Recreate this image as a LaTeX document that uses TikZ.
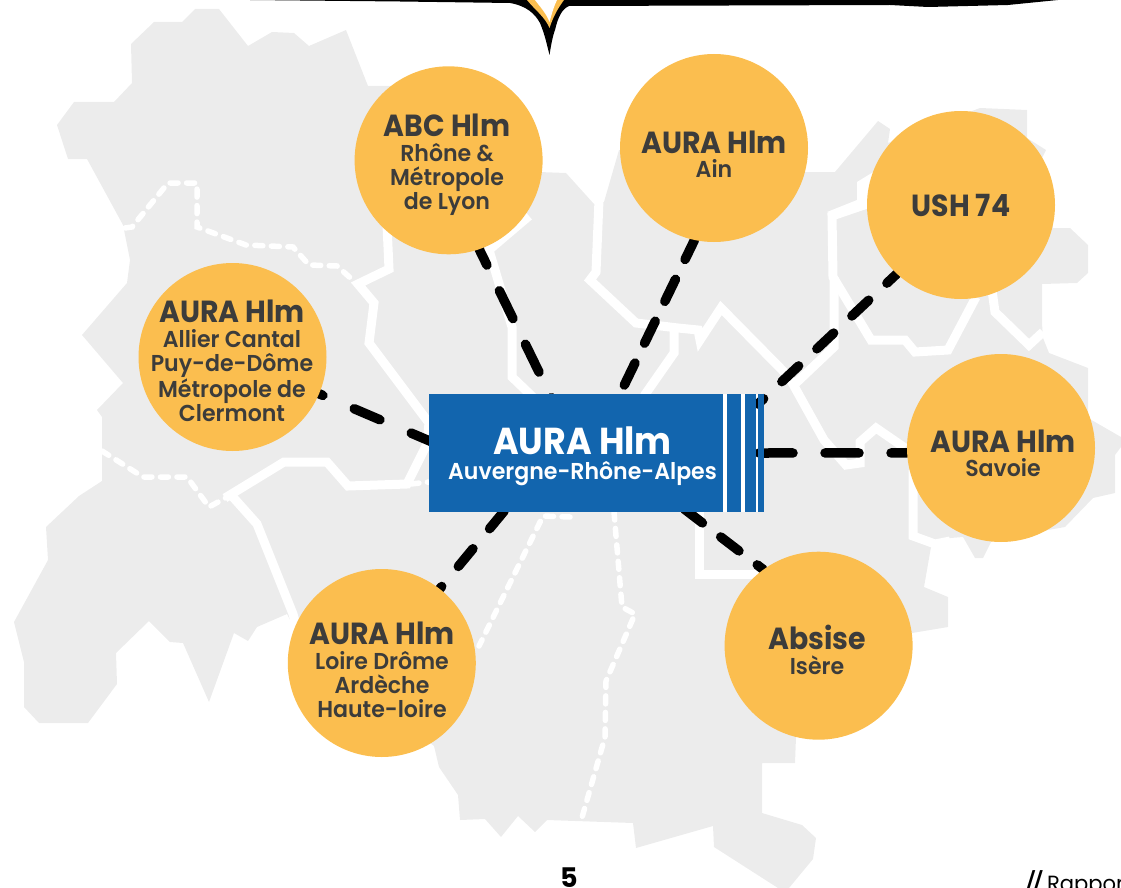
\documentclass[tikz,border=0pt]{standalone}
\usepackage{fontspec}
\setmainfont{Poppins}
\newfontfamily\gothic{Poppins SemiBold}[FakeStretch=0.96]
\newfontfamily\gothicb{Poppins}[FakeStretch=0.93]
\newfontfamily\footf{Poppins}[FakeStretch=0.96]
\newfontfamily\slashf{Poppins}[FakeStretch=0.75]
\definecolor{mapgray}{HTML}{ECECEC}
\definecolor{disc}{HTML}{FBBE4F}
\definecolor{ink}{HTML}{3C3C3B}
\definecolor{boxblue}{HTML}{1265AE}
\newcommand{\bigt}[1]{{\gothicb\bfseries\fontsize{30.5}{24.3}\selectfont #1}}
\tikzset{
  band/.style={draw=white,line width=9pt,line join=miter},
  dotted band/.style={draw=white,line width=5.5pt,line cap=round,dash pattern=on 8pt off 8.5pt},
  conn/.style={draw=black,line width=9.5pt,line cap=round},
  disc node/.style={circle,fill=disc,minimum size=188pt,inner sep=0pt},
  disc text/.style={align=center,text=ink,inner sep=0pt,font=\gothic\fontsize{23}{24.3}\selectfont},
  blue part/.style={fill=boxblue,inner sep=0pt,minimum height=118pt,anchor=north west}
}
\begin{document}
\begin{tikzpicture}[x=1pt,y=-1pt]
\useasboundingbox (0,0) rectangle (1121,888);
% map
\fill[mapgray] (195,9)--(219,9)--(248,46)--(272,32)--(294,33)--(309,46)--(346,30)--(368,86)--(393,86)--(539,172)--(566,173)--(594,204)--(604,202)--(619,150)--(806,172)--(835,172)--(878,121)--(890,129)--(888,143)--(980,108)--(1027,110)--(1027,138)--(1046,150)--(1042,158)--(1053,228)--(1070,228)--(1088,245)--(1088,273)--(1077,283)--(1042,284)--(1042,323)--(1043,338)--(1049,353)--(1088,368)--(1088,418)--(1121,437)--(1121,447)--(1115,455)--(1115,493)--(1093,498)--(1065,527)--(992,540)--(983,558)--(975,558)--(963,537)--(938,539)--(931,547)--(924,587)--(948,597)--(948,627)--(912,633)--(796,737)--(795,763)--(762,763)--(762,813)--(802,825)--(816,838)--(813,859)--(789,888)--(778,888)--(714,847)--(713,826)--(636,848)--(633,823)--(547,820)--(535,832)--(518,816)--(501,837)--(485,819)--(460,820)--(458,795)--(439,767)--(434,746)--(298,635)--(287,614)--(257,627)--(248,641)--(234,633)--(209,702)--(183,643)--(170,642)--(149,621)--(116,653)--(117,684)--(88,723)--(39,723)--(24,707)--(24,662)--(14,622)--(48,560)--(46,527)--(79,496)--(102,481)--(102,417)--(97,410)--(123,383)--(82,335)--(127,283)--(130,260)--(123,225)--(87,159)--(68,159)--(57,125)--(74,102)--(114,102)--(132,83)--(131,44)--(154,22)--(182,22)--cycle;
% white borders
\fill[white] (875,171)--(857,182)--(857,200)--(827,212)--(838,217)--(880,205)--cycle;
\draw[band] (387,225)--(389,269)--(358,284)--(374,303)--(369,343)--(429,423)--(427,444)--(407,484)--(348,486)--(327,462)--(284,462)--(225,498);
\draw[band] (232,496)--(257,524)--(293,614)--(300,640);
\draw[band] (529,216)--(489,250)--(512,327)--(512,377)--(536,400);
\draw[band] (599,200)--(596,272)--(590,280)--(636,323)--(678,328)--(698,330)--(700,340)--(721,308)--(789,377)--(824,440)--(846,465)--(860,463)--(860,442)--(876,428)--(905,448);
\draw[band] (674,328)--(674,353)--(644,396);
\draw[band] (867,204)--(832,216)--(833,277)--(871,340)--(905,340)--(915,352)--(948,350)--(976,297);
\draw[band] (834,277)--(834,347)--(796,383);
\draw[band] (992,290)--(995,312)--(1029,345)--(1043,332);
\draw[band] (913,470)--(913,536)--(935,544)--(950,541);
\draw[band] (699,505)--(699,574)--(770,574);
% white dashed borders
\draw[dotted band] (125,228)--(132,227)--(168,183)--(197,183)--(197,227)--(246,245)--(293,247)--(309,265)--(337,266)--(355,282);
\draw[dotted band] (102,451)--(143,477)--(187,477)--(209,507)--(229,496);
\draw[dotted band] (411,484)--(429,482);
\draw[dotted band] (570,517)--(543,516)--(479,646);
\draw[dotted band] (614,512)--(622,607)--(635,614)--(606,681)--(605,737)--(581,821);
% bracket of the bubble above
\fill[black] (250,0)--(400,1.5)--(510,3) .. controls (527,6) and (535,14) .. (540,23) .. controls (545,35) and (547,45) .. (549.5,55) .. controls (551,45) and (553,35) .. (555,30) .. controls (558,17) and (562,9) .. (569,6)--(890,5)--(928,7)--(1008,5)--(1058,0)--cycle;
\fill[disc] (527,0) .. controls (535,10) and (545,17) .. (549.5,28) .. controls (553,17) and (558,8) .. (564,0)--cycle;
\fill[white] (535,0) .. controls (541,8) and (546,13) .. (549.5,22) .. controls (552,13) and (554,6) .. (557,0)--cycle;
% gaps of the box
\fill[white] (723,394) rectangle (764,512);
% discs named first, drawn last
\path node[disc node,fill=none] (abc) at (448.6,160.3) {}
      node[disc node,fill=none] (ain) at (714,148) {}
      node[disc node,fill=none] (ush) at (961,205) {}
      node[disc node,fill=none] (all) at (232.5,357) {}
      node[disc node,fill=none] (sav) at (1001,448) {}
      node[disc node,fill=none] (abs) at (818.6,645.7) {}
      node[disc node,fill=none] (loi) at (381.8,663) {};
\coordinate (bAbc) at (555,405);
\coordinate (bAin) at (620,394);
\coordinate (bUsh) at (758,404);
\coordinate (bAll) at (432,442);
\coordinate (bSav) at (759,453);
\coordinate (bAbs) at (679,505);
\coordinate (bLoi) at (510,504);
% connectors
\draw[conn,dash pattern=on 31pt off 28.5pt,dash phase=13.5pt] (abc.-71)--(bAbc);
\draw[conn,dash pattern=on 24.5pt off 22pt,dash phase=3pt] (ain.-102.5)--(bAin);
\draw[conn,dash pattern=on 23pt off 25pt,dash phase=9.5pt] (ush.-133)--(bUsh);
\draw[conn,dash pattern=on 28pt off 34pt,dash phase=24pt] (all.-23)--(bAll);
\draw[conn,dash pattern=on 34pt off 32pt] (bSav)--(sav.183);
\draw[conn,dash pattern=on 23pt off 23pt,dash phase=39.5pt] (bAbs)--(abs.126);
\draw[conn,dash pattern=on 23pt off 26pt,dash phase=20pt] (loi.52)--(bLoi);
% box
\node[blue part,minimum width=294pt] (box) at (429,394) {};
\node[blue part,minimum width=14pt] (s1) at (727,394) {};
\node[blue part,minimum width=11pt] (s2) at (745,394) {};
\node[blue part,minimum width=6pt] (s3) at (758,394) {};
\node[align=center,text=white,inner sep=0pt,font=\gothic\fontsize{23}{25}\selectfont] (boxt) at (582.5,456) {{\gothicb\bfseries\fontsize{37.5}{25}\selectfont AURA Hlm}\\Auvergne-Rhône-Alpes};
% discs
\foreach \n/\x/\y in {abc/448.6/160.3,ain/714/148,ush/961/205,all/232.5/357,sav/1001/448,abs/818.6/645.7,loi/381.8/663}
  \node[disc node] at (\x,\y) {};
\node[disc text] (abct) at (447,165) {\bigt{ABC Hlm}\\Rhône \&\\Métropole\\de Lyon};
\node[disc text] (aint) at (714,154) {\bigt{AURA Hlm}\\Ain};
\node[disc text] (usht) at (961,205) {\bigt{USH 74}};
\node[disc text] (allt) at (232,361) {\bigt{AURA Hlm}\\Allier Cantal\\Puy-de-Dôme\\Métropole de\\Clermont};
\node[disc text] (savt) at (1003,453) {\bigt{AURA Hlm}\\Savoie};
\node[disc text] (abst) at (817,650) {\bigt{Absise}\\Isère};
\node[disc text] (loit) at (382,670) {\bigt{AURA Hlm}\\Loire Drôme\\Ardèche\\Haute-loire};
% page furniture
\node[inner sep=0pt,anchor=base,font=\bfseries\fontsize{27}{27}\selectfont] (page) at (569,887) {5};
\node[inner sep=0pt,anchor=base west,font=\fontsize{22}{22}\selectfont] (foot) at (1026,891) {{\slashf\bfseries\itshape //} {\footf Rapport}};
\end{tikzpicture}
\end{document}
